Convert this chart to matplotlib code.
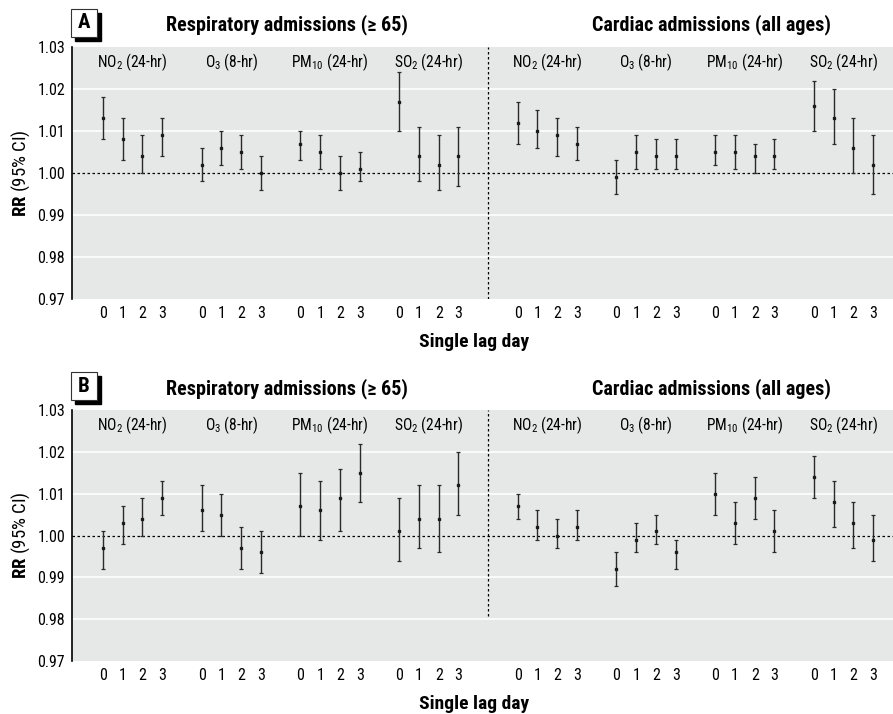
import matplotlib
matplotlib.use("Agg")
import matplotlib.pyplot as plt
from matplotlib import font_manager
from matplotlib.patches import Rectangle

# 좁은 글꼴이 있으면 사용
names = {f.name for f in font_manager.fontManager.ttflist}
fam = 'Liberation Sans'
for cand in ['Liberation Sans Narrow', 'DejaVu Sans Condensed', 'Roboto Condensed']:
    if cand in names:
        fam = cand
        break
plt.rcParams['font.family'] = [fam, 'DejaVu Sans']
plt.rcParams['mathtext.fontset'] = 'custom'
plt.rcParams['mathtext.rm'] = fam
plt.rcParams['mathtext.bf'] = fam + ':bold'

pollutants = ['NO$_2$ (24-hr)', 'O$_3$ (8-hr)', 'PM$_{10}$ (24-hr)', 'SO$_2$ (24-hr)']
lags = [0, 1, 2, 3]
outcomes = ['Respiratory admissions (\u2265 65)', 'Cardiac admissions (all ages)']

# Panel A - respiratory (>=65): NO2, O3, PM10, SO2 x lag 0..3
a_resp_est = [1.013, 1.008, 1.004, 1.009, 1.002, 1.006, 1.005, 1.000,
              1.007, 1.005, 1.000, 1.001, 1.017, 1.004, 1.002, 1.004]
a_resp_lo = [1.008, 1.003, 1.000, 1.004, 0.998, 1.002, 1.001, 0.996,
             1.003, 1.001, 0.996, 0.998, 1.010, 0.998, 0.996, 0.997]
a_resp_hi = [1.018, 1.013, 1.009, 1.013, 1.006, 1.010, 1.009, 1.004,
             1.010, 1.009, 1.004, 1.005, 1.024, 1.011, 1.009, 1.011]
# Panel A - cardiac (all ages)
a_card_est = [1.012, 1.010, 1.009, 1.007, 0.999, 1.005, 1.004, 1.004,
              1.005, 1.005, 1.004, 1.004, 1.016, 1.013, 1.006, 1.002]
a_card_lo = [1.007, 1.006, 1.004, 1.003, 0.995, 1.001, 1.001, 1.001,
             1.002, 1.001, 1.000, 1.001, 1.010, 1.007, 1.000, 0.995]
a_card_hi = [1.017, 1.015, 1.013, 1.011, 1.003, 1.009, 1.008, 1.008,
             1.009, 1.009, 1.007, 1.008, 1.022, 1.020, 1.013, 1.009]

# Panel B - respiratory (>=65)
b_resp_est = [0.997, 1.003, 1.004, 1.009, 1.006, 1.005, 0.997, 0.996,
              1.007, 1.006, 1.009, 1.015, 1.001, 1.004, 1.004, 1.012]
b_resp_lo = [0.992, 0.998, 1.000, 1.005, 1.001, 1.000, 0.992, 0.991,
             1.000, 0.999, 1.001, 1.008, 0.994, 0.997, 0.996, 1.005]
b_resp_hi = [1.001, 1.007, 1.009, 1.013, 1.012, 1.010, 1.002, 1.001,
             1.015, 1.013, 1.016, 1.022, 1.009, 1.012, 1.012, 1.020]
# Panel B - cardiac (all ages)
b_card_est = [1.007, 1.002, 1.000, 1.002, 0.992, 0.999, 1.001, 0.996,
              1.010, 1.003, 1.009, 1.001, 1.014, 1.008, 1.003, 0.999]
b_card_lo = [1.004, 0.999, 0.997, 0.999, 0.988, 0.996, 0.998, 0.992,
             1.005, 0.998, 1.004, 0.996, 1.009, 1.002, 0.997, 0.994]
b_card_hi = [1.010, 1.006, 1.004, 1.006, 0.996, 1.003, 1.005, 0.999,
             1.015, 1.008, 1.014, 1.006, 1.019, 1.013, 1.008, 1.005]

yticks = [0.97, 0.98, 0.99, 1.00, 1.01, 1.02, 1.03]

group_start = [0, 5, 10, 15, 21, 26, 31, 36]
divider = 19.5

panels = [
    ('A', [a_resp_est, a_card_est], [a_resp_lo, a_card_lo], [a_resp_hi, a_card_hi],
     [0.0806, 0.5812, 0.9194, 0.3530], 0.0),
    ('B', [b_resp_est, b_card_est], [b_resp_lo, b_card_lo], [b_resp_hi, b_card_hi],
     [0.0806, 0.0742, 0.9194, 0.3515], 0.18),
]

bg = '#e6e7e7'
fig = plt.figure(figsize=(8.93, 7.14), dpi=100)

for letter, ests, los, his, rect, div_bottom in panels:
    ax = fig.add_axes(rect)
    ax.set_facecolor(bg)
    xs_all, labels_all = [], []
    for side in range(2):
        est, lo, hi = ests[side], los[side], his[side]
        for p in range(4):
            g = group_start[side * 4 + p]
            xs = [g + l for l in lags]
            e = est[p * 4:(p + 1) * 4]
            l_ = lo[p * 4:(p + 1) * 4]
            h_ = hi[p * 4:(p + 1) * 4]
            yerr = [[e[i] - l_[i] for i in range(4)], [h_[i] - e[i] for i in range(4)]]
            ax.errorbar(xs, e, yerr=yerr, fmt='s', ms=1.8, color='#1a1a1a',
                        ecolor='#2a2a2a', elinewidth=1.0, capsize=1.6, capthick=0.9, zorder=3)
            xs_all += xs
            labels_all += [str(l) for l in lags]
            ax.text(g + 1.5, 1.0264, pollutants[p], ha='center', va='center', fontsize=11.2)
    for yv in [0.98, 0.99, 1.01, 1.02]:
        ax.axhline(yv, color='white', lw=1.2, zorder=1)
    ax.axhline(1.0, color='black', lw=0.9, ls=(0, (2, 2)), zorder=2)
    ax.axvline(divider, ymin=div_bottom, ymax=1, color='black', lw=0.9,
               ls=(0, (2, 2)), zorder=2)
    ax.set_xlim(-1.57, 40.0)
    ax.set_ylim(0.97, 1.03)
    ax.set_yticks(yticks)
    ax.set_yticklabels(['%.2f' % v for v in yticks], fontsize=11.5)
    ax.set_xticks(xs_all)
    ax.set_xticklabels(labels_all, fontsize=11.5)
    ax.tick_params(length=0, pad=5)
    for s in ['top', 'right', 'bottom']:
        ax.spines[s].set_visible(False)
    ax.spines['left'].set_linewidth(1.2)
    ax.set_xlabel('Single lag day', fontsize=14, fontweight='bold')
    ax.xaxis.set_label_coords(0.49, -0.135)
    ax.set_ylabel(r'$\mathbf{RR}$ (95% CI)', fontsize=13.5, labelpad=4)

    # titles over each half
    ax.text(9.3, 1.0352, outcomes[0], ha='center', va='center', fontsize=14.5,
            fontweight='bold', clip_on=False)
    ax.text(30.8, 1.0352, outcomes[1], ha='center', va='center', fontsize=14.5,
            fontweight='bold', clip_on=False)

    # panel letter box with shadow
    x0 = rect[0] - 0.001
    y_top = rect[1] + rect[3]
    bw, bh = 26 / 893, 28 / 714
    by = y_top + 10 / 714
    fig.patches.append(Rectangle((x0 + 4 / 893, by - 4 / 714), bw, bh, transform=fig.transFigure,
                                 facecolor='black', edgecolor='black', zorder=5))
    fig.patches.append(Rectangle((x0, by), bw, bh, transform=fig.transFigure,
                                 facecolor='white', edgecolor='#333333', lw=0.8, zorder=6))
    fig.text(x0 + bw / 2, by + bh / 2, letter, ha='center', va='center', fontsize=15,
             fontweight='bold', zorder=7)

fig.savefig('out.png', dpi=100)
